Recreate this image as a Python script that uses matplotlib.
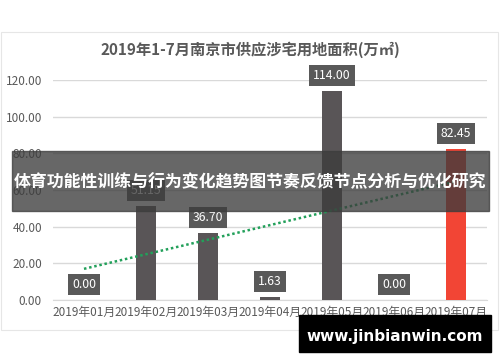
import matplotlib.pyplot as plt
import matplotlib.patches as patches
import numpy as np

plt.rcParams['font.family'] = ['Noto Sans CJK SC', 'DejaVu Sans']

months = ['2019年01月', '2019年02月', '2019年03月', '2019年04月',
          '2019年05月', '2019年06月', '2019年07月']
area = [0.00, 51.15, 36.70, 1.63, 114.00, 0.00, 82.45]
bar_colors = ['#595557'] * 6 + ['#f24535']
trend = [17.0, 64.7]  # linear trend line, Jan -> Jul
yticks = [0, 20, 40, 60, 80, 100, 120]

title = '2019年1-7月南京市供应涉宅用地面积(万㎡)'
banner = '体育功能性训练与行为变化趋势图节奏反馈节点分析与优化研究'
watermark = 'www.jinbianwin.com'

fig = plt.figure(figsize=(5, 3.62), dpi=100)
fig.patch.set_facecolor('white')

# chart frame
fig.patches.append(patches.Rectangle((0.002, 1 - 330 / 362), 0.994, 298 / 362,
                                     transform=fig.transFigure, fill=False,
                                     edgecolor='#e6e6e6', lw=0.8))

ax = fig.add_axes([53 / 500, 1 - 300 / 362, 434 / 500, 220 / 362])
x = np.arange(len(months))
ax.bar(x, area, width=0.31, color=bar_colors, zorder=3)
ax.plot([x[0], x[-1]], trend, color='#22a05a', ls=(0, (1, 1.1)), lw=1.8, zorder=4)

for xi, v in zip(x, area):
    ax.annotate(f'{v:.2f}', (xi, v), xytext=(0, 11), textcoords='offset points',
                ha='center', va='center', fontsize=8.8, color='white',
                bbox=dict(boxstyle='square,pad=0.33', fc='#595959', ec='none'),
                zorder=5, annotation_clip=False)

ax.set_xlim(-0.5, 6.5)
ax.set_ylim(0, 120)
ax.set_yticks(yticks)
ax.set_yticklabels([f'{t:.2f}' for t in yticks])
ax.set_xticks(x)
ax.set_xticklabels(months)
ax.tick_params(axis='both', length=0, labelsize=8.5, colors='#595959')
ax.tick_params(axis='x', pad=4)
ax.tick_params(axis='y', pad=8)
ax.grid(axis='y', color='#d9d9d9', lw=1, zorder=0)
for s in ax.spines.values():
    s.set_visible(False)
ax.spines['bottom'].set_visible(True)
ax.spines['bottom'].set_color('#d9d9d9')

fig.text(0.5, 1 - 50 / 362, title, ha='center', va='center', fontsize=11,
         fontweight='bold', color='#595959')

# overlay banner
fig.patches.append(patches.Rectangle((12 / 500, 1 - 211 / 362), 477 / 500, 60 / 362,
                                     transform=fig.transFigure, color='#3c3c3c',
                                     alpha=0.78, zorder=10))
fig.text(0.5, 1 - 182 / 362, banner, ha='center', va='center', fontsize=12.2,
         fontweight='bold', color='white', zorder=11)

# watermark
fig.patches.append(patches.Rectangle((299 / 500, 1 - 352 / 362), 192 / 500, 37 / 362,
                                     transform=fig.transFigure, color='black', zorder=10))
fig.text(395 / 500, 1 - 336 / 362, watermark, ha='center', va='center', fontsize=11,
         fontweight='bold', color='white', zorder=11, family='DejaVu Sans')

fig.savefig('out.png', dpi=100)
